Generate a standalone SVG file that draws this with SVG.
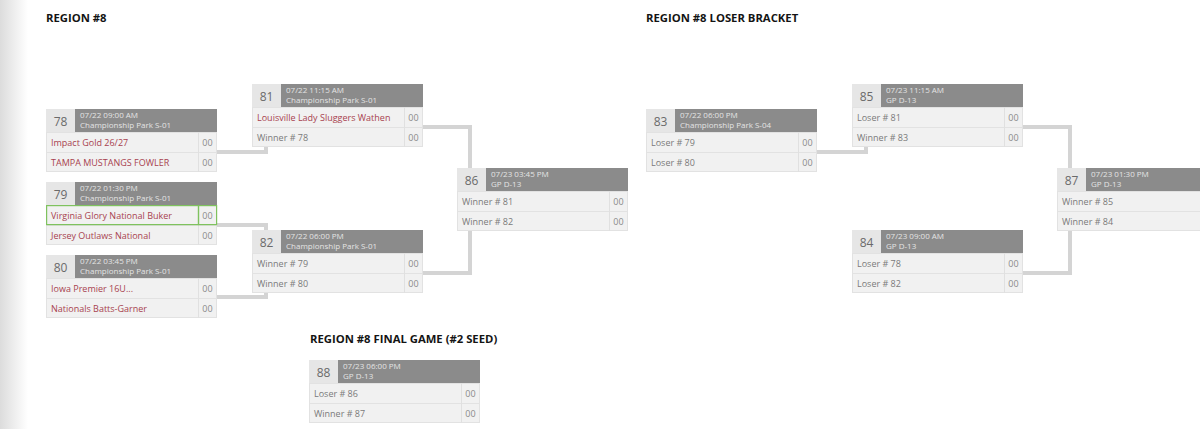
<svg xmlns="http://www.w3.org/2000/svg" width="1200" height="429" viewBox="0 0 1200 429">
<defs>
<linearGradient id="edge" x1="0" y1="0" x2="1" y2="0">
<stop offset="0" stop-color="#dcdcdc"/>
<stop offset="1" stop-color="#ffffff"/>
</linearGradient>
<g id="frame">
<rect class="num" x="0" y="0" width="29" height="23"/>
<rect class="hdr" x="29" y="0" width="142" height="23"/>
<rect class="row" x="0.5" y="23.5" width="170" height="20"/>
<rect class="row" x="0.5" y="43.5" width="170" height="19"/>
<line class="div" x1="152.5" y1="23" x2="152.5" y2="63"/>
</g>
</defs>
<style>
.title{font-family:"Open Sans","Liberation Sans",sans-serif;font-weight:bold;font-size:11.3px;fill:#141414}
.num{fill:#e6e6e6}
.hdr{fill:#8b8b8b}
.row{fill:#f1f1f1;stroke:#e2e2e2;stroke-width:1}
.div{stroke:#e0e0e0;stroke-width:1}
.n{font-family:"Open Sans","Liberation Sans",sans-serif;font-size:12px;fill:#6a6a6a;text-anchor:middle}
.h{font-family:"Open Sans","Liberation Sans",sans-serif;font-size:8px;fill:#e4e4e4}
.t{font-family:"Open Sans","Liberation Sans",sans-serif;font-size:9px;fill:#a8424f}
.w{font-family:"Open Sans","Liberation Sans",sans-serif;font-size:9px;fill:#7a7a7a}
.s{font-family:"Open Sans","Liberation Sans",sans-serif;font-size:9px;fill:#8a8a8a;text-anchor:middle}
.con{fill:none;stroke:#d4d4d4;stroke-width:4}
.win{fill:none;stroke:#7fc25e;stroke-width:1.2}
</style>
<rect x="0" y="0" width="1200" height="429" fill="#ffffff"/>
<rect x="0" y="0" width="28" height="429" fill="url(#edge)"/>

<text class="title" x="46" y="22">REGION #8</text>
<text class="title" x="646" y="22">REGION #8 LOSER BRACKET</text>
<text class="title" x="310" y="343">REGION #8 FINAL GAME (#2 SEED)</text>

<g id="connectors">
<path class="con" d="M217 152 H266 V147"/>
<path class="con" d="M217 225 H266 V230"/>
<path class="con" d="M217 297 H266 V293"/>
<path class="con" d="M423 127 H470 V168"/>
<path class="con" d="M423 273 H470 V231"/>
<path class="con" d="M817 152 H866 V147"/>
<path class="con" d="M1023 127 H1070 V168"/>
<path class="con" d="M1023 273 H1070 V231"/>
</g>

<g id="game78" transform="translate(46,109)">
<use href="#frame"/>
<text class="n" x="14.5" y="17">78</text>
<text class="h" x="34" y="9">07/22 09:00 AM</text>
<text class="h" x="34" y="18.5">Championship Park S-01</text>
<text class="t" x="5" y="36.5">Impact Gold 26/27</text>
<text class="s" x="161.5" y="36.5">00</text>
<text class="t" x="5" y="56.5">TAMPA MUSTANGS FOWLER</text>
<text class="s" x="161.5" y="56.5">00</text>
</g>

<g id="game79" transform="translate(46,182)">
<use href="#frame"/>
<rect class="win" x="0.6" y="23.6" width="151.8" height="19"/>
<rect class="win" x="152.6" y="23.6" width="18" height="19"/>
<text class="n" x="14.5" y="17">79</text>
<text class="h" x="34" y="9">07/22 01:30 PM</text>
<text class="h" x="34" y="18.5">Championship Park S-01</text>
<text class="t" x="5" y="36.5">Virginia Glory National Buker</text>
<text class="s" x="161.5" y="36.5">00</text>
<text class="t" x="5" y="56.5">Jersey Outlaws National</text>
<text class="s" x="161.5" y="56.5">00</text>
</g>

<g id="game80" transform="translate(46,255)">
<use href="#frame"/>
<text class="n" x="14.5" y="17">80</text>
<text class="h" x="34" y="9">07/22 03:45 PM</text>
<text class="h" x="34" y="18.5">Championship Park S-01</text>
<text class="t" x="5" y="36.5">Iowa Premier 16U...</text>
<text class="s" x="161.5" y="36.5">00</text>
<text class="t" x="5" y="56.5">Nationals Batts-Garner</text>
<text class="s" x="161.5" y="56.5">00</text>
</g>

<g id="game81" transform="translate(252,84)">
<use href="#frame"/>
<text class="n" x="14.5" y="17">81</text>
<text class="h" x="34" y="9">07/22 11:15 AM</text>
<text class="h" x="34" y="18.5">Championship Park S-01</text>
<text class="t" x="5" y="36.5">Louisville Lady Sluggers Wathen</text>
<text class="s" x="161.5" y="36.5">00</text>
<text class="w" x="5" y="56.5">Winner # 78</text>
<text class="s" x="161.5" y="56.5">00</text>
</g>

<g id="game82" transform="translate(252,230)">
<use href="#frame"/>
<text class="n" x="14.5" y="17">82</text>
<text class="h" x="34" y="9">07/22 06:00 PM</text>
<text class="h" x="34" y="18.5">Championship Park S-01</text>
<text class="w" x="5" y="36.5">Winner # 79</text>
<text class="s" x="161.5" y="36.5">00</text>
<text class="w" x="5" y="56.5">Winner # 80</text>
<text class="s" x="161.5" y="56.5">00</text>
</g>

<g id="game86" transform="translate(457,168)">
<use href="#frame"/>
<text class="n" x="14.5" y="17">86</text>
<text class="h" x="34" y="9">07/23 03:45 PM</text>
<text class="h" x="34" y="18.5">GP D-13</text>
<text class="w" x="5" y="36.5">Winner # 81</text>
<text class="s" x="161.5" y="36.5">00</text>
<text class="w" x="5" y="56.5">Winner # 82</text>
<text class="s" x="161.5" y="56.5">00</text>
</g>

<g id="game83" transform="translate(646,109)">
<use href="#frame"/>
<text class="n" x="14.5" y="17">83</text>
<text class="h" x="34" y="9">07/22 06:00 PM</text>
<text class="h" x="34" y="18.5">Championship Park S-04</text>
<text class="w" x="5" y="36.5">Loser # 79</text>
<text class="s" x="161.5" y="36.5">00</text>
<text class="w" x="5" y="56.5">Loser # 80</text>
<text class="s" x="161.5" y="56.5">00</text>
</g>

<g id="game85" transform="translate(852,84)">
<use href="#frame"/>
<text class="n" x="14.5" y="17">85</text>
<text class="h" x="34" y="9">07/23 11:15 AM</text>
<text class="h" x="34" y="18.5">GP D-13</text>
<text class="w" x="5" y="36.5">Loser # 81</text>
<text class="s" x="161.5" y="36.5">00</text>
<text class="w" x="5" y="56.5">Winner # 83</text>
<text class="s" x="161.5" y="56.5">00</text>
</g>

<g id="game84" transform="translate(852,230)">
<use href="#frame"/>
<text class="n" x="14.5" y="17">84</text>
<text class="h" x="34" y="9">07/23 09:00 AM</text>
<text class="h" x="34" y="18.5">GP D-13</text>
<text class="w" x="5" y="36.5">Loser # 78</text>
<text class="s" x="161.5" y="36.5">00</text>
<text class="w" x="5" y="56.5">Loser # 82</text>
<text class="s" x="161.5" y="56.5">00</text>
</g>

<g id="game87" transform="translate(1057,168)">
<use href="#frame"/>
<text class="n" x="14.5" y="17">87</text>
<text class="h" x="34" y="9">07/23 01:30 PM</text>
<text class="h" x="34" y="18.5">GP D-13</text>
<text class="w" x="5" y="36.5">Winner # 85</text>
<text class="w" x="5" y="56.5">Winner # 84</text>
</g>

<g id="game88" transform="translate(309,360)">
<use href="#frame"/>
<text class="n" x="14.5" y="17">88</text>
<text class="h" x="34" y="9">07/23 06:00 PM</text>
<text class="h" x="34" y="18.5">GP D-13</text>
<text class="w" x="5" y="36.5">Loser # 86</text>
<text class="s" x="161.5" y="36.5">00</text>
<text class="w" x="5" y="56.5">Winner # 87</text>
<text class="s" x="161.5" y="56.5">00</text>
</g>
</svg>
